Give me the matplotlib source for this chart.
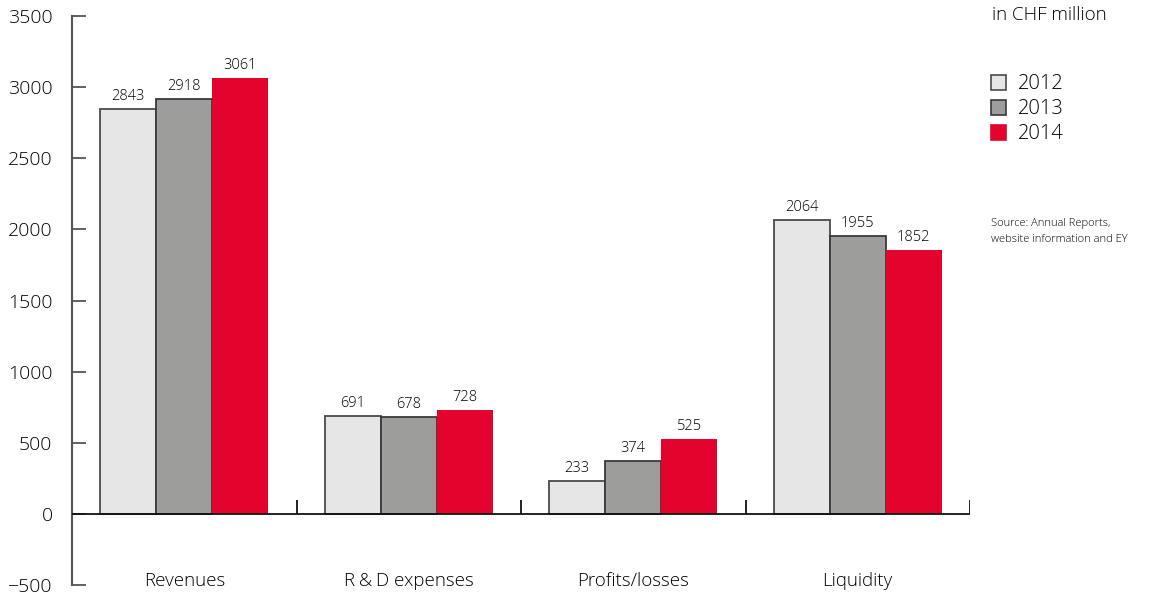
import matplotlib
matplotlib.use("Agg")
import matplotlib.pyplot as plt
import numpy as np

categories = ["Revenues", "R\u2009&\u2009D expenses", "Profits/losses", "Liquidity"]
years = ["2012", "2013", "2014"]
v2012 = [2843, 691, 233, 2064]
v2013 = [2918, 678, 374, 1955]
v2014 = [3061, 728, 525, 1852]
yticks = [-500, 0, 500, 1000, 1500, 2000, 2500, 3000, 3500]

colors = ["#e6e6e6", "#9d9d9c", "#e4032c"]
edges = ["#4a4a4a", "#3a3a3a", "none"]

plt.rcParams['font.family'] = ['Open Sans', 'DejaVu Sans']
FW = "light"
TC = "#000000"
W, H = 1155, 597
fig = plt.figure(figsize=(W / 100, H / 100), dpi=100)
ax = fig.add_axes([72 / W, 1 - 585 / H, (970 - 72) / W, (585 - 16) / H])

series = [v2012, v2013, v2014]
bw = 0.25
x = np.arange(len(categories)) + 0.5
for i, (vals, c, e) in enumerate(zip(series, colors, edges)):
    pos = x + (i - 1) * bw
    ax.bar(pos, vals, width=bw, color=c, edgecolor=e, linewidth=1.3 if e != "none" else 0,
           label=years[i], zorder=2)
    for p, v in zip(pos, vals):
        ax.text(p, v + 35, str(v), ha="center", va="bottom", fontsize=10.5,
                fontweight=FW, color=TC)

ax.set_xlim(0, len(categories))
ax.set_ylim(-500, 3500)
ax.set_yticks(yticks)
ax.set_yticklabels([("\u2212500" if t < 0 else str(t)) for t in yticks], fontsize=14,
                   fontweight=FW, color=TC)
ax.tick_params(axis="y", direction="in", length=10, width=1.3, color="#555555", pad=14)
ax.set_xticks([])
for s in ["top", "right", "bottom"]:
    ax.spines[s].set_visible(False)
ax.spines["left"].set_color("#555555")
ax.spines["left"].set_linewidth(1.5)

ax.axhline(0, color="#111111", linewidth=1.3, zorder=3)
ax.vlines(np.arange(1, len(categories) + 1), 0, 100, color="#111111", linewidth=1.3, zorder=3)

for xi, cat in zip(x, categories):
    ax.text(xi, -470, cat, ha="center", va="center", fontsize=13.5, fontweight=FW, color=TC)

fig.text(992 / W, 1 - 15 / H, "in CHF million", ha="left", va="center", fontsize=13.5,
         fontweight=FW, color=TC)
for i, (yr, c, e) in enumerate(zip(years, colors, edges)):
    yc = 82 + i * 25
    fig.patches.append(plt.Rectangle((991 / W, 1 - (yc + 7.5) / H), 15 / W, 15 / H,
                                     transform=fig.transFigure, facecolor=c,
                                     edgecolor=e if e != "none" else c, linewidth=1.2))
    fig.text(1018 / W, 1 - (yc + 2) / H, yr, ha="left", va="center", fontsize=14.5,
             fontweight=FW, color=TC)

fig.text(991 / W, 1 - 224 / H, "Source: Annual Reports,", ha="left", va="center", fontsize=8,
         fontweight=FW, color=TC)
fig.text(991 / W, 1 - 240 / H, "website information and EY", ha="left", va="center", fontsize=8,
         fontweight=FW, color=TC)

fig.savefig("out.png", dpi=100)
